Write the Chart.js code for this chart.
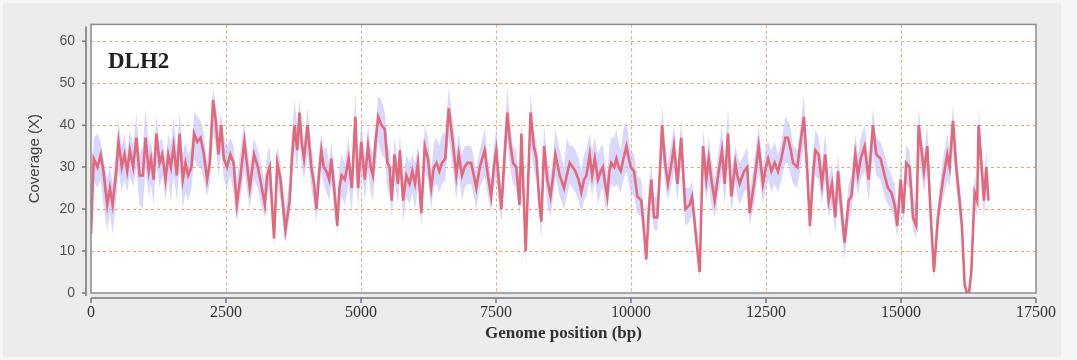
<!DOCTYPE html>
<html>
<head>
<meta charset="utf-8">
<script src="https://cdn.jsdelivr.net/npm/chart.js@4/dist/chart.umd.min.js"></script>
<style>
  body { margin: 0; background: #ffffff; }
  #wrap { width: 1077px; height: 360px; }
</style>
</head>
<body>
<div id="wrap"><canvas id="coverageChart" width="1077" height="360"></canvas></div>
<script>
// ==============================
//  DATA
// ==============================
const sampleName = "DLH2";

const positions = [
    0, 50, 120, 180, 230, 300, 350, 400, 460, 510, 570, 620, 670, 720, 780, 840, 900, 960, 1010, 1070,
    1110, 1160, 1210, 1270, 1320, 1380, 1430, 1480, 1530, 1590, 1640, 1700, 1750, 1800, 1860, 1910, 1970, 2030, 2090, 2150,
    2200, 2260, 2310, 2360, 2410, 2460, 2520, 2580, 2640, 2700, 2760, 2840, 2940, 3020, 3090, 3150, 3220, 3260, 3310, 3390,
    3450, 3510, 3600, 3680, 3720, 3770, 3820, 3860, 3900, 3945, 4010, 4080, 4130, 4175, 4220, 4265, 4310, 4360, 4410, 4450,
    4510, 4560, 4600, 4640, 4700, 4770, 4830, 4895, 4945, 5005, 5070, 5130, 5180, 5220, 5270, 5320, 5380, 5440, 5490, 5530,
    5570, 5620, 5685, 5720, 5780, 5840, 5900, 5950, 6000, 6055, 6117, 6180, 6240, 6300, 6350, 6400, 6450, 6500, 6560, 6625,
    6700, 6765, 6810, 6870, 6920, 6970, 7040, 7090, 7135, 7200, 7290, 7350, 7410, 7460, 7505, 7550, 7600, 7660, 7710, 7760,
    7815, 7875, 7935, 7970, 8050, 8140, 8200, 8250, 8300, 8340, 8390, 8450, 8510, 8560, 8600, 8680, 8760, 8810, 8865, 8920,
    8970, 9030, 9080, 9130, 9175, 9235, 9280, 9330, 9390, 9440, 9480, 9520, 9560, 9600, 9635, 9690, 9730, 9770, 9810, 9860,
    9915, 9960, 9995, 10055, 10117, 10190, 10240, 10283, 10330, 10376, 10425, 10487, 10540, 10575, 10630, 10685, 10740, 10795, 10860, 10930,
    11005, 11085, 11130, 11192, 11272, 11334, 11395, 11440, 11500, 11550, 11624, 11685, 11735, 11796, 11858, 11932, 11970, 12012, 12093, 12154,
    12197, 12278, 12364, 12444, 12500, 12540, 12600, 12660, 12722, 12784, 12858, 12907, 12960, 13000, 13080, 13141, 13203, 13265, 13314, 13370,
    13413, 13475, 13536, 13598, 13660, 13721, 13783, 13833, 13882, 13956, 14030, 14080, 14154, 14203, 14253, 14327, 14401, 14481, 14543, 14623,
    14697, 14759, 14820, 14882, 14931, 14993, 15042, 15098, 15160, 15221, 15283, 15326, 15425, 15487, 15548, 15610, 15684, 15777, 15857, 15900,
    15962, 16024, 16085, 16128, 16178, 16220, 16260, 16302, 16363, 16412, 16437, 16499, 16536, 16579, 16620
];

const coverage = [
    14, 32, 30, 33, 29, 21, 25, 21, 28, 36, 30, 33, 29, 34, 30, 37, 28, 28, 37, 29,
    32, 27, 38, 31, 33, 27, 33, 30, 35, 28, 38, 27, 31, 28, 30, 38, 36, 37, 33, 27,
    31, 46, 41, 33, 40, 32, 30, 33, 31, 21, 27, 36, 25, 33, 30, 26, 21, 28, 30, 13,
    31, 27, 15, 22, 32, 40, 34, 43, 36, 32, 40, 30, 26, 20, 28, 34, 30, 29, 27, 32,
    24, 16, 25, 28, 27, 32, 25, 42, 25, 36, 27, 35, 30, 28, 36, 42, 40, 39, 31, 30,
    22, 33, 26, 34, 22, 28, 26, 29, 26, 31, 19, 35, 32, 25, 30, 31, 29, 31, 32, 44,
    36, 28, 33, 28, 30, 31, 31, 28, 25, 30, 34, 28, 23, 30, 34, 27, 20, 33, 43, 36,
    31, 30, 21, 38, 10, 43, 35, 32, 22, 17, 35, 27, 23, 28, 33, 28, 25, 28, 31, 30,
    29, 27, 24, 27, 28, 33, 28, 32, 27, 29, 30, 26, 23, 29, 31, 30, 32, 30, 29, 32,
    35, 32, 30, 29, 23, 22, 15, 8, 20, 27, 18, 18, 30, 40, 31, 26, 30, 35, 26, 37,
    20, 21, 23, 15, 5, 35, 27, 32, 26, 22, 29, 34, 26, 38, 23, 31, 28, 26, 29, 30,
    19, 26, 35, 26, 30, 32, 29, 31, 29, 32, 37, 37, 34, 31, 30, 36, 42, 29, 16, 28,
    34, 33, 26, 33, 22, 26, 18, 29, 22, 12, 22, 23, 33, 28, 32, 35, 27, 40, 33, 32,
    28, 25, 24, 21, 16, 27, 19, 31, 30, 18, 16, 40, 29, 35, 19, 5, 18, 27, 33, 30,
    41, 30, 22, 16, 2, 0, 0, 5, 24, 22, 40, 29, 22, 30, 22
];

const bandUpper = [
    20, 37, 38, 36, 32, 27, 30, 26, 34, 41, 35, 38, 33, 39, 35, 43, 33, 35, 44, 35,
    36, 32, 42, 36, 37, 31, 38, 35, 42, 34, 43, 33, 36, 33, 35, 43, 42, 41, 38, 31,
    36, 49, 45, 39, 43, 37, 35, 37, 35, 27, 33, 41, 30, 37, 34, 31, 26, 33, 35, 18,
    35, 31, 20, 27, 38, 46, 40, 46, 41, 36, 44, 35, 30, 25, 33, 38, 34, 35, 31, 36,
    29, 21, 30, 33, 31, 37, 29, 48, 30, 41, 32, 40, 35, 33, 40, 47, 46, 43, 36, 34,
    27, 37, 31, 38, 27, 33, 31, 33, 31, 35, 24, 40, 37, 29, 36, 37, 35, 38, 38, 49,
    41, 34, 38, 33, 35, 35, 35, 32, 29, 34, 39, 32, 27, 35, 39, 31, 25, 38, 49, 40,
    35, 34, 26, 42, 14, 48, 39, 36, 27, 22, 40, 32, 28, 33, 39, 34, 30, 37, 35, 35,
    34, 32, 29, 33, 34, 38, 34, 37, 33, 35, 35, 31, 28, 35, 37, 37, 39, 36, 34, 39,
    41, 37, 34, 33, 28, 27, 19, 11, 25, 31, 23, 23, 34, 45, 36, 31, 35, 40, 31, 41,
    25, 25, 27, 19, 8, 39, 32, 37, 31, 27, 34, 40, 31, 44, 28, 35, 33, 31, 33, 35,
    24, 31, 40, 30, 35, 36, 34, 36, 33, 36, 42, 41, 39, 35, 34, 40, 47, 33, 21, 33,
    39, 37, 31, 38, 27, 31, 23, 33, 27, 16, 26, 28, 38, 33, 37, 40, 31, 44, 37, 36,
    33, 30, 28, 26, 20, 32, 24, 35, 34, 23, 21, 44, 33, 40, 24, 8, 22, 32, 38, 34,
    45, 34, 26, 19, 3, 0.5, 0.5, 6, 28, 26, 44, 33, 26, 34, 26
];

const bandLower = [
    12, 27, 25, 27, 21, 15, 19, 14, 21, 29, 24, 27, 24, 28, 25, 30, 21, 20, 30, 23,
    26, 21, 31, 25, 28, 22, 27, 22, 28, 22, 31, 20, 24, 22, 25, 32, 30, 30, 27, 23,
    26, 38, 35, 28, 34, 27, 25, 28, 24, 17, 22, 29, 20, 27, 25, 21, 18, 23, 25, 11,
    26, 22, 12, 18, 27, 34, 29, 37, 30, 27, 33, 25, 21, 17, 23, 29, 26, 24, 22, 26,
    20, 14, 21, 23, 21, 26, 19, 34, 20, 30, 22, 29, 24, 22, 30, 36, 33, 32, 25, 23,
    18, 27, 21, 28, 17, 23, 21, 24, 20, 25, 16, 29, 27, 20, 25, 26, 24, 26, 27, 37,
    30, 22, 28, 22, 25, 26, 26, 23, 20, 25, 28, 23, 19, 25, 28, 21, 17, 27, 36, 30,
    26, 25, 18, 32, 7, 36, 29, 27, 19, 13, 29, 21, 18, 23, 28, 23, 20, 23, 26, 25,
    24, 22, 19, 22, 23, 27, 23, 27, 21, 24, 25, 21, 19, 24, 26, 25, 26, 25, 24, 27,
    29, 26, 24, 23, 19, 18, 12, 6, 16, 22, 15, 15, 25, 34, 26, 22, 25, 29, 22, 31,
    16, 17, 19, 12, 3, 29, 22, 26, 20, 18, 24, 28, 21, 31, 19, 26, 23, 21, 24, 25,
    16, 21, 29, 21, 25, 27, 24, 26, 24, 27, 31, 31, 28, 26, 25, 30, 35, 23, 13, 23,
    28, 27, 21, 27, 18, 21, 14, 23, 17, 8, 17, 19, 27, 23, 27, 29, 22, 33, 28, 27,
    23, 21, 20, 17, 13, 22, 16, 26, 25, 15, 13, 33, 24, 29, 16, 3, 15, 22, 27, 25,
    34, 25, 18, 13, 1, 0, 0, 3, 20, 18, 34, 24, 18, 25, 19
];

const xTickStep = 2500;
const yTickStep = 10;

// ==============================
//  COLOURS
// ==============================
const lineColor = "#e2687b";
const bandColor = "rgba(192, 192, 252, 0.62)";
const gridColor = "#eaa871";
const frameColor = "#8c8c8c";

const toPoints = arr => arr.map((v, i) => ({ x: positions[i], y: v }));

// ==============================
//  PLUGINS
// ==============================
const backdrop = {
    id: "backdrop",
    beforeDraw(chart) {
        const { ctx, chartArea: a } = chart;
        ctx.save();
        ctx.fillStyle = "#f6f6f6";
        ctx.fillRect(0, 0, chart.width, chart.height);
        ctx.fillStyle = "#ececec";
        ctx.fillRect(3, 3, 1058, 354);
        ctx.fillStyle = "#ffffff";
        ctx.fillRect(a.left, a.top, a.right - a.left, a.bottom - a.top);
        ctx.restore();
    }
};

const frameAndAxes = {
    id: "frameAndAxes",
    afterDatasetsDraw(chart) {
        const { ctx, chartArea: a, scales } = chart;
        ctx.save();
        // plot frame
        ctx.strokeStyle = frameColor;
        ctx.lineWidth = 1.5;
        ctx.strokeRect(a.left, a.top, a.right - a.left, a.bottom - a.top);

        // detached axis lines with outward ticks
        ctx.strokeStyle = "#777";
        ctx.lineWidth = 1.5;
        const ax = a.left - 5;
        ctx.beginPath();
        ctx.moveTo(ax, a.top + 2);
        ctx.lineTo(ax, a.bottom + 3);
        scales.y.ticks.forEach(t => {
            const y = scales.y.getPixelForValue(t.value);
            ctx.moveTo(ax, y);
            ctx.lineTo(ax - 4, y);
        });
        const ay = a.bottom + 5;
        ctx.moveTo(a.left, ay);
        ctx.lineTo(a.right, ay);
        scales.x.ticks.forEach(t => {
            const x = scales.x.getPixelForValue(t.value);
            ctx.moveTo(x, ay);
            ctx.lineTo(x, ay + 5);
        });
        ctx.stroke();

        // sample label
        ctx.fillStyle = "#222";
        ctx.font = "bold 23px 'Liberation Serif', serif";
        ctx.textBaseline = "alphabetic";
        ctx.fillText(sampleName, a.left + 17, a.top + 44);
        ctx.restore();
    }
};

// ==============================
//  CHART
// ==============================
const ctx = document.getElementById("coverageChart").getContext("2d");

new Chart(ctx, {
    type: "line",
    data: {
        datasets: [
            {
                label: "Coverage",
                data: toPoints(coverage),
                borderColor: lineColor,
                borderWidth: 2.6,
                pointRadius: 0,
                tension: 0,
                fill: false
            },
            {
                label: "lower",
                data: toPoints(bandLower),
                borderWidth: 0,
                pointRadius: 0,
                fill: false
            },
            {
                label: "upper",
                data: toPoints(bandUpper),
                borderWidth: 0,
                pointRadius: 0,
                backgroundColor: bandColor,
                fill: 1
            }
        ]
    },
    options: {
        responsive: false,
        animation: false,
        layout: { padding: { top: 18, right: 41, bottom: 0, left: 0 } },
        plugins: {
            legend: { display: false },
            tooltip: { enabled: false }
        },
        scales: {
            x: {
                type: "linear",
                min: 0,
                max: 17500,
                afterFit: s => { s.height = 67; },
                ticks: {
                    stepSize: xTickStep,
                    padding: 10,
                    maxRotation: 0,
                    color: "#333",
                    font: { family: "'Liberation Serif', serif", size: 16 },
                    callback: v => String(v)
                },
                grid: {
                    drawTicks: false,
                    color: c => (c.tick && (c.tick.value === 0 || c.tick.value === 17500)) ? "transparent" : gridColor
                },
                border: { display: false, dash: [3, 3] },
                title: {
                    display: true,
                    text: "Genome position (bp)",
                    color: "#333",
                    font: { family: "'Liberation Serif', serif", size: 17, weight: "bold" },
                    padding: { top: 0, bottom: 16 }
                }
            },
            y: {
                min: 0,
                max: 64,
                afterFit: s => { s.width = 91; },
                ticks: {
                    stepSize: yTickStep,
                    includeBounds: false,
                    padding: 16,
                    color: "#555",
                    font: { family: "'Liberation Sans', sans-serif", size: 14 }
                },
                grid: {
                    drawTicks: false,
                    color: c => (c.tick && c.tick.value === 0) ? "transparent" : gridColor
                },
                border: { display: false, dash: [3, 3] },
                title: {
                    display: true,
                    text: "Coverage (X)",
                    color: "#444",
                    font: { family: "'Liberation Sans', sans-serif", size: 15 },
                    padding: { top: 26, bottom: 0 }
                }
            }
        }
    },
    plugins: [backdrop, frameAndAxes]
});
</script>
</body>
</html>
